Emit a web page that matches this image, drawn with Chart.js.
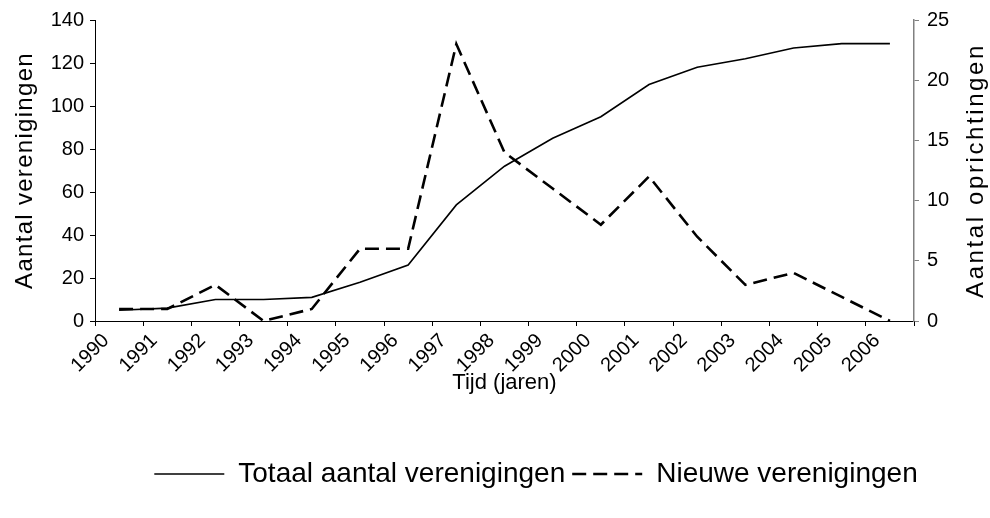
<!DOCTYPE html>
<html lang="nl">
<head>
  <meta charset="UTF-8">
  <title>Verenigingen 1990-2006</title>
  <script src="https://cdn.jsdelivr.net/npm/chart.js"></script>
  <style>
    html, body { margin: 0; padding: 0; background: #fff; }
    #wrap { width: 990px; height: 518px; }
  </style>
</head>
<body>
  <div id="wrap"><canvas id="chartCanvas"></canvas></div>

  <script>
    const years = ['1990','1991','1992','1993','1994','1995','1996','1997','1998',
                   '1999','2000','2001','2002','2003','2004','2005','2006'];
    const totaal = [5, 6, 10, 10, 11, 18, 26, 54, 72, 85, 95, 110, 118, 122, 127, 129, 129];
    const nieuw = [1, 1, 3, 0, 1, 6, 6, 23, 14, 11, 8, 12, 7, 3, 4, 2, 0];
    const leftTicks = [0, 20, 40, 60, 80, 100, 120, 140];
    const rightTicks = [0, 5, 10, 15, 20, 25];

    const font = 'Liberation Sans, Arial, sans-serif';
    const leftTitle = 'Aantal verenigingen';
    const rightTitle = 'Aantal oprichtingen';

    // both y titles read bottom-to-top, with the wide spacing of the original
    const yTitlesPlugin = {
      id: 'yTitles',
      afterLayout(chart) {
        // legend in the original sits a bit right of centre
        if (chart.legend) {
          chart.legend.left += 36;
          chart.legend.right += 36;
        }
      },
      afterDraw(chart) {
        const ctx = chart.ctx;
        const area = chart.chartArea;
        const midY = (area.top + area.bottom) / 2;
        const draw = (text, x, spacing) => {
          ctx.save();
          ctx.translate(x, midY);
          ctx.rotate(-Math.PI / 2);
          ctx.font = '24px ' + font;
          ctx.letterSpacing = spacing;
          ctx.fillStyle = '#000';
          ctx.textAlign = 'center';
          ctx.textBaseline = 'middle';
          ctx.fillText(text, 0, 0);
          ctx.restore();
        };
        draw(leftTitle, 25, '1.3px');
        draw(rightTitle, 976, '2.6px');
      }
    };

    const ctx = document.getElementById('chartCanvas').getContext('2d');
    new Chart(ctx, {
      type: 'line',
      data: {
        labels: years,
        datasets: [
          {
            label: 'Totaal aantal verenigingen',
            data: totaal,
            yAxisID: 'y',
            borderColor: '#000',
            backgroundColor: '#000',
            borderWidth: 1.6,
            pointRadius: 0,
            tension: 0,
            fill: false
          },
          {
            label: 'Nieuwe verenigingen',
            data: nieuw,
            yAxisID: 'y1',
            borderColor: '#000',
            backgroundColor: '#000',
            borderWidth: 2.6,
            borderDash: [14, 7],
            pointRadius: 0,
            tension: 0,
            fill: false
          }
        ]
      },
      options: {
        responsive: true,
        maintainAspectRatio: false,
        animation: false,
        layout: { padding: { left: 10, right: 0, top: 20, bottom: 20 } },
        plugins: {
          tooltip: { enabled: false },
          legend: {
            position: 'bottom',
            labels: {
              usePointStyle: true,
              pointStyle: 'line',
              pointStyleWidth: 70,
              color: '#000',
              font: { family: font, size: 28 },
              padding: 7,
              generateLabels(chart) {
                const items = Chart.defaults.plugins.legend.labels.generateLabels(chart);
                return items.map(item => {
                  const ds = chart.data.datasets[item.datasetIndex];
                  item.lineDash = ds.borderDash || [];
                  item.lineWidth = ds.borderWidth;
                  item.strokeStyle = ds.borderColor;
                  return item;
                });
              }
            }
          }
        },
        scales: {
          x: {
            offset: true,
            afterFit: scale => { scale.height = 132; },
            border: { display: true, color: '#000', width: 1 },
            grid: { display: true, drawOnChartArea: false, offset: true, tickLength: 5, tickColor: '#000' },
            ticks: { color: '#000', font: { family: font, size: 20 }, minRotation: 45, maxRotation: 45, autoSkip: false, padding: 3, labelOffset: -13 },
            title: { display: true, text: 'Tijd (jaren)', color: '#000', font: { family: font, size: 22 }, padding: { top: 0, bottom: 57 } }
          },
          y: {
            position: 'left',
            min: 0,
            max: 140,
            afterBuildTicks: axis => { axis.ticks = leftTicks.map(v => ({ value: v })); },
            afterFit: scale => { scale.width = 85; },
            border: { display: true, color: '#000', width: 1 },
            grid: { display: true, drawOnChartArea: false, tickLength: 5, tickColor: '#000' },
            ticks: { color: '#000', font: { family: font, size: 20 }, padding: 6 }
          },
          y1: {
            position: 'right',
            min: 0,
            max: 25,
            afterBuildTicks: axis => { axis.ticks = rightTicks.map(v => ({ value: v })); },
            afterFit: scale => { scale.width = 76; },
            border: { display: true, color: '#808080', width: 1.5 },
            grid: { display: true, drawOnChartArea: false, tickLength: 5, tickColor: '#808080' },
            ticks: { color: '#000', font: { family: font, size: 20 }, padding: 8 }
          }
        }
      },
      plugins: [yTitlesPlugin]
    });
  </script>
</body>
</html>
